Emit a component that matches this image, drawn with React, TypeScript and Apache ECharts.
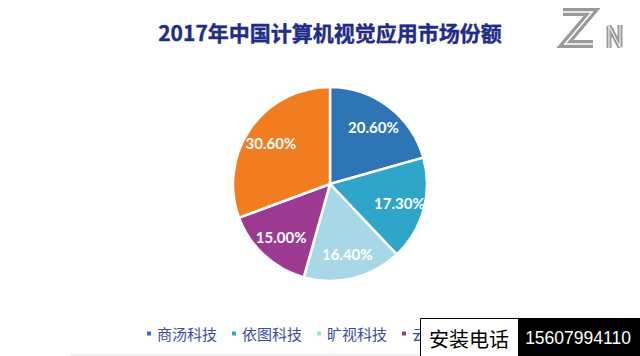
import React, { useEffect, useRef } from "react";
import * as echarts from "echarts";

const titleText = "2017年中国计算机视觉应用市场份额";
const categories = ["商汤科技", "依图科技", "旷视科技", "云从科技", "其他"];
const legendItems = ["商汤科技", "依图科技", "旷视科技", "云从科技"];
const shares = [20.6, 17.3, 16.4, 15.0, 30.6];
const colors = ["#2E75B6", "#2FA5C9", "#A8D8E8", "#9C3A92", "#F27D21"];
const phoneLabel = "安装电话";
const phoneNumber = "15607994110";

export default function App() {
  const ref = useRef<HTMLDivElement>(null);
  useEffect(() => {
    if (!ref.current) return;
    const chart = echarts.init(ref.current, null, { renderer: "svg" });
    const data = categories.map((name, i) => ({
      name,
      value: shares[i],
      itemStyle: { color: colors[i] },
    }));
    const labelData = categories.map((name, i) => ({ name, value: shares[i] }));
    chart.setOption({
      animation: false,
      backgroundColor: "#ffffff",
      legend: {
        data: legendItems,
        left: 140,
        top: 321,
        icon: "rect",
        itemWidth: 6,
        itemHeight: 6,
        itemGap: 13,
        textStyle: {
          fontFamily: "Noto Sans CJK SC",
          fontSize: 15,
          color: "#3b4ba0",
        },
      },
      series: [
        {
          type: "pie",
          center: [330, 184],
          radius: [0, 97],
          startAngle: 90,
          clockwise: true,
          silent: true,
          label: { show: false },
          labelLine: { show: false },
          itemStyle: { borderColor: "#ffffff", borderWidth: 2.5 },
          emphasis: { disabled: true },
          data,
        },
        {
          type: "pie",
          center: [330, 184],
          radius: [41, 97],
          startAngle: 90,
          clockwise: true,
          silent: true,
          legendHoverLink: false,
          itemStyle: { color: "rgba(0,0,0,0)", borderWidth: 0 },
          labelLine: { show: false },
          emphasis: { disabled: true },
          label: {
            show: true,
            position: "inside",
            formatter: (p: any) => p.value.toFixed(2) + "%",
            color: "#ffffff",
            fontFamily: "Lato",
            fontWeight: "bold",
            fontSize: 15,
          },
          data: labelData,
        },
      ],
      graphic: [
        {
          type: "text",
          x: 330,
          y: 32,
          style: {
            text: titleText,
            align: "center",
            verticalAlign: "middle",
            fontFamily: "Noto Sans CJK SC",
            fontWeight: "bold",
            fontSize: 21,
            fill: "#1f2d88",
            stroke: "#1f2d88",
            lineWidth: 0.4,
          },
        },
        // ZN logo
        {
          type: "polyline",
          shape: { points: [[563, 12], [592, 12], [565, 44], [593, 44]] },
          style: { stroke: "#9a9a9a", lineWidth: 8, fill: null, lineJoin: "miter" },
        },
        {
          type: "polyline",
          shape: { points: [[563, 12], [592, 12], [565, 44], [593, 44]] },
          style: { stroke: "#ffffff", lineWidth: 1.5, fill: null, lineJoin: "miter" },
        },
        {
          type: "polyline",
          shape: { points: [[609, 48], [609, 26], [620, 47], [620, 25]] },
          style: { stroke: "#9a9a9a", lineWidth: 5, fill: null, lineJoin: "miter" },
        },
        {
          type: "polyline",
          shape: { points: [[609, 48], [609, 26], [620, 47], [620, 25]] },
          style: { stroke: "#ffffff", lineWidth: 1, fill: null, lineJoin: "miter" },
        },
        {
          type: "rect",
          shape: { x: 70, y: 354, width: 350, height: 2 },
          style: { fill: "#eeeeee" },
        },
        {
          type: "rect",
          z: 100,
          shape: { x: 420.5, y: 318.5, width: 98, height: 40 },
          style: { fill: "#ffffff", stroke: "#000000", lineWidth: 1 },
        },
        {
          type: "text",
          z: 101,
          x: 469,
          y: 338,
          style: {
            text: phoneLabel,
            align: "center",
            verticalAlign: "middle",
            fontFamily: "Noto Sans CJK SC",
            fontSize: 20,
            fill: "#000000",
          },
        },
        {
          type: "rect",
          z: 100,
          shape: { x: 518, y: 318, width: 122, height: 40 },
          style: { fill: "#000000" },
        },
        {
          type: "text",
          z: 101,
          x: 578,
          y: 338,
          style: {
            text: phoneNumber,
            align: "center",
            verticalAlign: "middle",
            fontFamily: "Liberation Sans",
            fontSize: 17.5,
            fill: "#ffffff",
          },
        },
      ],
    });
    return () => chart.dispose();
  }, []);
  return (
    <div
      ref={ref}
      style={{ position: "fixed", left: 0, top: 0, width: 640, height: 356 }}
    />
  );
}
